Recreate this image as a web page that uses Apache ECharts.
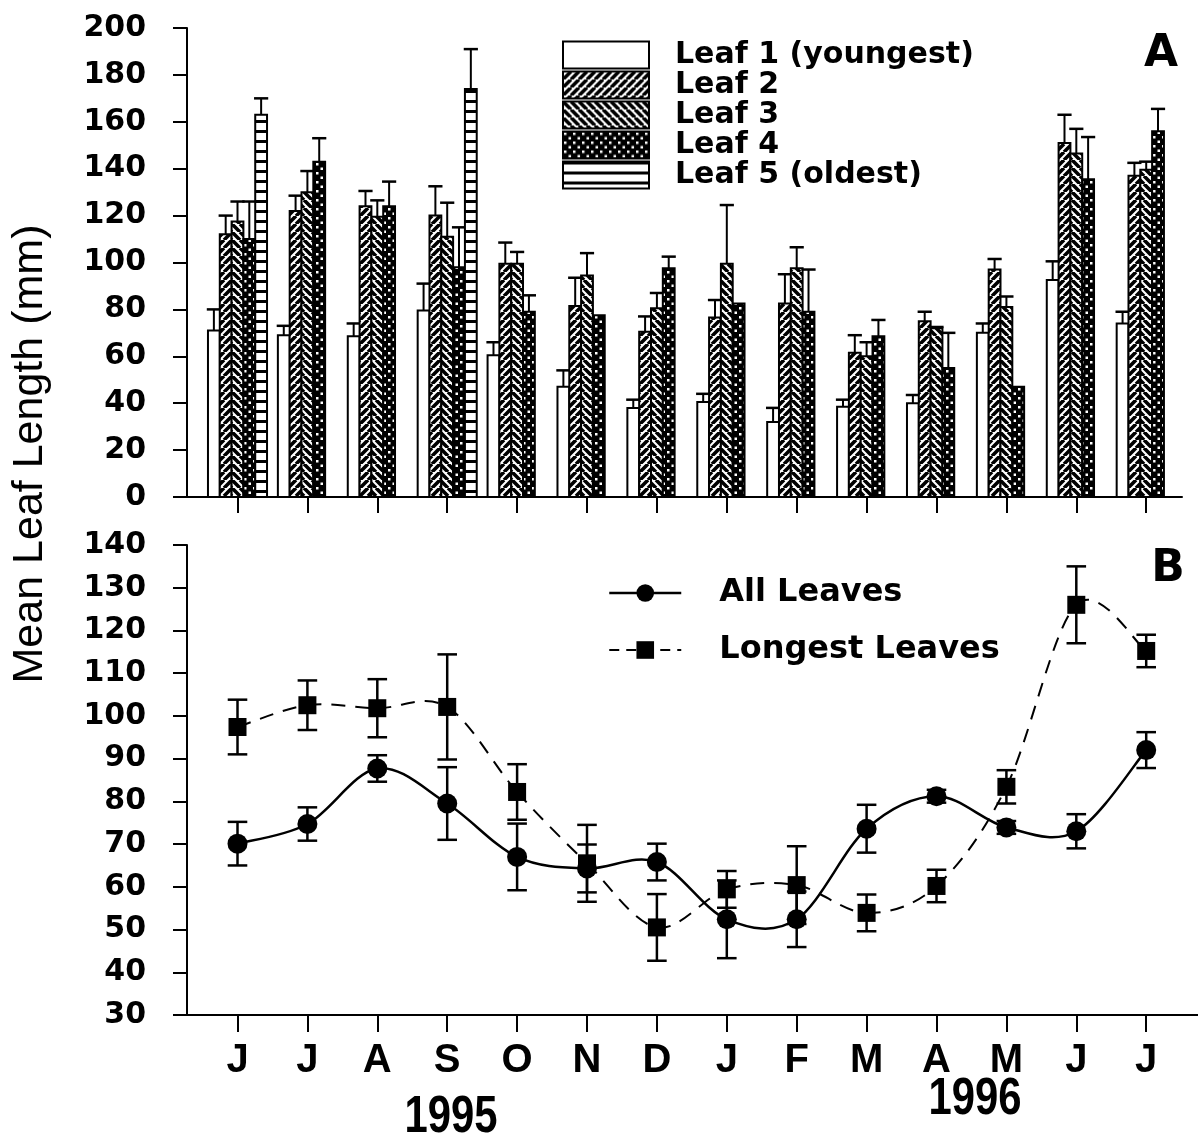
<!DOCTYPE html>
<html>
<head>
<meta charset="utf-8">
<script src="https://cdn.jsdelivr.net/npm/echarts@6/dist/echarts.min.js"></script>
<style>html,body{margin:0;padding:0;background:#fff}#c{width:1198px;height:1143px}</style>
</head>
<body>
<div id="c"></div>
<script>
// ---------- DATA ----------
const months = ['J','J','A','S','O','N','D','J','F','M','A','M','J','J'];
const years = ['1995', '1996'];
const leafNames = ['Leaf 1 (youngest)', 'Leaf 2', 'Leaf 3', 'Leaf 4', 'Leaf 5 (oldest)'];
const lineNames = ['All Leaves', 'Longest Leaves'];

const leaf1 = [71, 69, 68.5, 79.5, 60.5, 47, 38, 40.5, 32, 38.5, 40, 70, 92.5, 74];
const leaf1Err = [9, 4, 5.5, 11.5, 5.5, 7, 3.5, 3.5, 6, 3, 3.5, 4, 8, 5];
const leaf2 = [112, 122, 124, 120, 99.5, 81.5, 70.5, 76.5, 82.5, 61.5, 75, 97, 151, 137];
const leaf2Err = [8, 6.5, 6.5, 12.5, 9, 12, 6.5, 7.5, 12.5, 7.5, 4, 4.5, 12, 5.5];
const leaf3 = [117.5, 130, 119.5, 111, 99.5, 94.5, 80.5, 99.5, 97.5, 60, 72, 81, 146.5, 139.5];
const leaf3Err = [8.5, 9, 7, 14.5, 5, 9.5, 6.5, 25, 9, 6, 0.5, 4.5, 10.5, 3.5];
const leaf4 = [110, 143, 124, 98, 79, 77.5, 97.5, 82.5, 79, 68.5, 55, 47, 135.5, 156];
const leaf4Err = [16, 10, 10.5, 17, 7, 0, 5, 0, 18, 7, 15, 0, 18, 9.5];
const leaf5 = [163, null, null, 174, null, null, null, null, null, null, null, null, null, null];
const leaf5Err = [7, null, null, 17, null, null, null, null, null, null, null, null, null, null];

const allLeaves = [70.1, 74.7, 87.7, 79.5, 67, 64.3, 65.8, 52.4, 52.4, 73.6, 81.2, 73.9, 73, 92];
const allLeavesErr = [5.1, 3.9, 3.1, 8.5, 7.8, 5.6, 4.3, 9.1, 6.5, 5.6, 1.5, 1.5, 4, 4.2];
const longestLeaves = [97.4, 102.5, 101.8, 102.1, 82.2, 65.5, 50.5, 59.4, 60.4, 53.9, 60.2, 83.4, 126, 115.2];
const longestLeavesErr = [6.4, 5.8, 6.8, 12.3, 6.5, 9, 7.8, 4.3, 9.1, 4.3, 3.8, 3.9, 9, 3.8];

const yTicksA = {min: 0, max: 200, interval: 20};
const yTicksB = {min: 30, max: 140, interval: 10};

// ---------- PATTERNS ----------
function pat(kind) {
  const c = document.createElement('canvas');
  const s = kind === 'dots' ? 9 : (kind === 'hlines' ? 10 : 8);
  c.width = s; c.height = s;
  const g = c.getContext('2d');
  g.fillStyle = '#fff'; g.fillRect(0, 0, s, s);
  g.strokeStyle = '#000'; g.fillStyle = '#000';
  if (kind === 'fwd' || kind === 'back') {
    g.lineWidth = 3.6;
    g.beginPath();
    for (let o = -2 * s; o <= 2 * s; o += s) {
      if (kind === 'fwd') { g.moveTo(o, s); g.lineTo(o + s, 0); }
      else { g.moveTo(o, 0); g.lineTo(o + s, s); }
    }
    g.stroke();
  } else if (kind === 'dots') {
    g.fillRect(0, 0, s, s);
    g.fillStyle = '#fff';
    g.fillRect(1, 1, 2.5, 2.5);
    g.fillRect(5.5, 5.5, 2.5, 2.5);
  } else if (kind === 'hlines') {
    g.fillRect(0, 0, s, 3);
  }
  return {image: c, repeat: 'repeat'};
}
const fills = ['#ffffff', pat('fwd'), pat('back'), pat('dots'), pat('hlines')];

const leafVals = [leaf1, leaf2, leaf3, leaf4, leaf5];
const leafErrs = [leaf1Err, leaf2Err, leaf3Err, leaf4Err, leaf5Err];
const W = 0.169; // bar slot width in month units

function barSeries(k) {
  const data = [];
  leafVals[k].forEach((v, i) => { if (v != null) data.push([i, v, leafErrs[k][i]]); });
  return {
    name: leafNames[k], type: 'custom', xAxisIndex: 0, yAxisIndex: 0,
    itemStyle: {color: fills[k], borderColor: '#000', borderWidth: 2},
    data: data,
    renderItem: function (params, api) {
      const i = api.value(0), v = api.value(1), e = api.value(2);
      const p0 = api.coord([i + (k - 2.5) * W, v]);
      const p1 = api.coord([i + (k - 1.5) * W, 0]);
      const children = [{
        type: 'rect',
        shape: {x: p0[0], y: p0[1], width: p1[0] - p0[0], height: p1[1] - p0[1]},
        style: {fill: fills[k], stroke: '#000', lineWidth: 2}
      }];
      if (e > 0) {
        const c = api.coord([i + (k - 2) * W, v]);
        const t = api.coord([i + (k - 2) * W, v + e]);
        const cl = api.coord([i + (k - 2) * W - 0.6 * W, v + e]);
        const cr = api.coord([i + (k - 2) * W + 0.6 * W, v + e]);
        children.push({type: 'line', shape: {x1: c[0], y1: c[1], x2: t[0], y2: t[1]}, style: {stroke: '#000', lineWidth: 2}});
        children.push({type: 'line', shape: {x1: cl[0], y1: cl[1], x2: cr[0], y2: cr[1]}, style: {stroke: '#000', lineWidth: 2.5}});
      }
      return {type: 'group', children: children};
    }
  };
}

function errSeries(vals, errs) {
  return {
    type: 'custom', xAxisIndex: 1, yAxisIndex: 1, z: 1, silent: true,
    data: vals.map((v, i) => [i, v - errs[i], v + errs[i]]),
    renderItem: function (params, api) {
      const i = api.value(0), lo = api.value(1), hi = api.value(2);
      const a = api.coord([i, lo]), b = api.coord([i, hi]);
      const hw = 0.14;
      const l1 = api.coord([i - hw, lo]), r1 = api.coord([i + hw, lo]);
      const l2 = api.coord([i - hw, hi]), r2 = api.coord([i + hw, hi]);
      const st = {stroke: '#000', lineWidth: 2.5};
      return {type: 'group', children: [
        {type: 'line', shape: {x1: a[0], y1: a[1], x2: b[0], y2: b[1]}, style: st},
        {type: 'line', shape: {x1: l1[0], y1: l1[1], x2: r1[0], y2: r1[1]}, style: st},
        {type: 'line', shape: {x1: l2[0], y1: l2[1], x2: r2[0], y2: r2[1]}, style: st}
      ]};
    }
  };
}

// spline curve through the points (Catmull-Rom segments), positions from api.coord
function curveSeries(vals, lineStyle) {
  return {
    type: 'custom', xAxisIndex: 1, yAxisIndex: 1, z: 2, silent: true,
    data: vals.slice(0, -1).map((v, i) => [i, v]),
    renderItem: function (params, api) {
      const i = api.value(0);
      const n = vals.length;
      const P = j => api.coord([Math.max(0, Math.min(n - 1, j)), vals[Math.max(0, Math.min(n - 1, j))]]);
      const p0 = P(i - 1), p1 = P(i), p2 = P(i + 1), p3 = P(i + 2);
      return {
        type: 'bezierCurve',
        shape: {
          x1: p1[0], y1: p1[1], x2: p2[0], y2: p2[1],
          cpx1: p1[0] + (p2[0] - p0[0]) / 6, cpy1: p1[1] + (p2[1] - p0[1]) / 6,
          cpx2: p2[0] - (p3[0] - p1[0]) / 6, cpy2: p2[1] - (p3[1] - p1[1]) / 6
        },
        style: Object.assign({fill: null, stroke: '#000'}, lineStyle)
      };
    }
  };
}

const tickIdx = months.map((m, i) => i);
const axisLineStyle = {show: true, onZero: false, lineStyle: {color: '#000', width: 2}};
const tickFont = {color: '#000', fontFamily: 'DejaVu Sans', fontWeight: 'bold', fontSize: 30};

const chart = echarts.init(document.getElementById('c'), null, {renderer: 'canvas'});
chart.setOption({
  backgroundColor: '#fff',
  animation: false,
  grid: [
    {left: 187, top: 28, width: 995, height: 469},
    {left: 187, top: 545, width: 1011, height: 470}
  ],
  xAxis: [
    {gridIndex: 0, type: 'value', min: -0.7225, max: 13.512, axisLine: axisLineStyle,
     axisTick: {show: true, customValues: tickIdx, length: 16, lineStyle: {color: '#000', width: 2}},
     axisLabel: {show: false}, splitLine: {show: false}},
    {gridIndex: 1, type: 'value', min: -0.7225, max: 13.741, axisLine: axisLineStyle,
     axisTick: {show: true, customValues: tickIdx, length: 17, lineStyle: {color: '#000', width: 2}},
     axisLabel: {show: true, customValues: tickIdx, margin: 26, color: '#000',
       fontFamily: 'Liberation Sans', fontWeight: 'bold', fontSize: 40,
       formatter: v => months[Math.round(v)]},
     splitLine: {show: false}}
  ],
  yAxis: [
    {gridIndex: 0, type: 'value', min: yTicksA.min, max: yTicksA.max, interval: yTicksA.interval,
     axisLine: axisLineStyle, axisTick: {show: true, length: 14, lineStyle: {color: '#000', width: 2}},
     axisLabel: Object.assign({margin: 41}, tickFont), splitLine: {show: false}},
    {gridIndex: 1, type: 'value', min: yTicksB.min, max: yTicksB.max, interval: yTicksB.interval,
     axisLine: axisLineStyle, axisTick: {show: true, length: 14, lineStyle: {color: '#000', width: 2}},
     axisLabel: Object.assign({margin: 41}, tickFont), splitLine: {show: false}}
  ],
  legend: [
    {data: leafNames, orient: 'vertical', left: 562, top: 40, padding: 0, itemWidth: 86, itemHeight: 27, itemGap: 0,
     icon: 'rect', itemStyle: {borderColor: '#000', borderWidth: 2},
     textStyle: {color: '#000', fontFamily: 'DejaVu Sans', fontWeight: 'bold', fontSize: 30, lineHeight: 27, padding: [0, 0, 0, 21]},
     selectedMode: false},
    {data: [
       {name: lineNames[0], lineStyle: {color: '#000', width: 2.5, opacity: 1, type: 'solid'}},
       {name: lineNames[1], lineStyle: {color: '#000', width: 2, opacity: 1, type: [10, 7]}}
     ],
     orient: 'vertical', left: 608, top: 577, padding: 0, itemWidth: 72, itemHeight: 22, itemGap: 25,
     textStyle: {color: '#000', fontFamily: 'DejaVu Sans', fontWeight: 'bold', fontSize: 32, lineHeight: 22, padding: [0, 0, 0, 33]},
     selectedMode: false}
  ],
  series: [
    barSeries(0), barSeries(1), barSeries(2), barSeries(3), barSeries(4),
    errSeries(allLeaves, allLeavesErr),
    errSeries(longestLeaves, longestLeavesErr),
    curveSeries(allLeaves, {lineWidth: 2.5}),
    curveSeries(longestLeaves, {lineWidth: 2, lineDash: [14, 10]}),
    {name: lineNames[0], type: 'line', xAxisIndex: 1, yAxisIndex: 1, z: 3,
     data: allLeaves.map((v, i) => [i, v]), symbol: 'circle', symbolSize: 20,
     lineStyle: {color: '#000', width: 2.5, opacity: 0}, itemStyle: {color: '#000'}},
    {name: lineNames[1], type: 'line', xAxisIndex: 1, yAxisIndex: 1, z: 3,
     data: longestLeaves.map((v, i) => [i, v]), symbol: 'rect', symbolSize: 18,
     lineStyle: {color: '#000', width: 2, opacity: 0}, itemStyle: {color: '#000'}}
  ],
  graphic: [
    {type: 'text', x: 30, y: 454, rotation: Math.PI / 2,
     style: {text: 'Mean Leaf Length (mm)', fill: '#000', font: '43px "Liberation Sans"', textAlign: 'center', textVerticalAlign: 'middle'}},
    {type: 'text', x: 451, y: 1118, scaleX: 0.82,
     style: {text: years[0], fill: '#000', font: 'bold 51px "Liberation Sans"', textAlign: 'center', textVerticalAlign: 'middle'}},
    {type: 'text', x: 975, y: 1100, scaleX: 0.82,
     style: {text: years[1], fill: '#000', font: 'bold 51px "Liberation Sans"', textAlign: 'center', textVerticalAlign: 'middle'}},
    {type: 'text', x: 1161, y: 55,
     style: {text: 'A', fill: '#000', font: 'bold 44px "DejaVu Sans"', textAlign: 'center', textVerticalAlign: 'middle'}},
    {type: 'text', x: 1168, y: 570,
     style: {text: 'B', fill: '#000', font: 'bold 44px "DejaVu Sans"', textAlign: 'center', textVerticalAlign: 'middle'}}
  ]
});
</script>
</body>
</html>
